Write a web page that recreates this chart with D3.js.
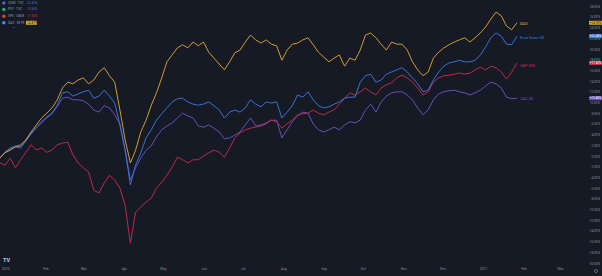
<!DOCTYPE html>
<html lang="en">
<head>
<meta charset="UTF-8">
<title>Index comparison</title>
<script src="https://d3js.org/d3.v7.min.js"></script>
<style>
  html, body { margin: 0; padding: 0; background: #161a25; }
  svg { display: block; font-family: Roboto, "DejaVu Sans", sans-serif; }
</style>
</head>
<body>
<div id="content"></div>
<script>
// one sample every 4 days, starting 28 Dec 2019
const startDate = new Date(Date.UTC(2019, 11, 28));
const stepDays = 4;

// % change
const dax = [-0.4,0.6,1.1,1.7,2.1,3.0,4.5,5.8,7.1,8.0,9.0,10.5,12.7,13.8,13.5,14.2,14.6,13.5,14.2,15.7,
  16.5,15.0,13.8,8.6,3.0,-1.3,1.1,4.5,6.7,9.5,11.8,14.6,17.6,18.9,20.2,20.8,20.2,21.3,20.6,21.3,
  19.4,18.3,17.2,16.1,17.6,19.3,19.8,21.3,22.6,21.7,21.1,21.7,20.9,20.6,17.9,19.8,20.9,21.1,21.7,22.1,
  20.8,19.4,18.5,17.6,18.3,18.9,16.8,18.3,17.9,19.8,22.6,23.0,22.1,20.9,19.8,21.3,20.9,20.9,19.8,17.6,
  16.1,15.0,15.7,18.3,19.4,20.2,20.8,21.3,21.7,22.1,21.3,22.1,23.0,24.1,25.6,26.9,26.2,24.3,23.6,24.9];
const stoxx = [-0.4,0.7,1.5,1.9,1.7,3.0,4.3,5.4,6.4,7.3,8.0,9.5,11.8,12.0,11.2,11.6,12.0,12.3,10.8,11.2,
  12.3,11.2,9.9,5.8,1.1,-5.4,-1.7,0.6,3.4,4.9,6.7,7.9,9.0,10.1,10.7,10.8,10.1,9.7,9.5,9.7,
  10.1,9.4,8.6,7.1,8.2,8.6,8.2,9.0,10.5,9.7,9.2,10.1,9.9,10.1,7.1,8.2,9.4,11.4,11.0,12.0,
  10.5,9.4,9.0,9.2,9.7,10.1,10.8,11.0,11.0,13.8,15.0,15.3,13.8,14.2,15.3,15.7,16.1,16.5,15.7,14.6,
  13.5,12.0,12.3,14.2,15.7,16.8,17.4,17.6,17.9,17.6,17.6,17.9,18.9,20.4,22.1,23.0,22.4,20.9,20.8,22.4];
const spx = [-1.3,-1.7,-0.4,-2.2,-0.7,0.7,2.1,1.1,1.5,0.7,1.1,2.1,2.4,2.6,0.2,-1.3,-2.2,-3.0,-6.4,-6.9,
  -5.0,-3.6,-4.5,-6.0,-9.2,-16.3,-10.5,-9.5,-8.6,-7.9,-6.0,-4.9,-3.6,-2.1,-0.2,-0.7,-1.3,-0.7,-0.7,0.0,
  0.6,1.1,0.7,-0.2,1.5,3.4,4.3,4.9,5.2,5.4,5.6,6.0,6.7,6.4,5.2,6.0,6.7,7.7,7.9,8.0,
  8.6,8.0,7.7,8.2,8.6,9.7,10.8,11.8,11.4,12.0,12.7,12.0,11.4,12.7,13.3,13.7,14.6,15.1,14.6,13.8,
  12.7,11.4,12.0,13.8,14.6,15.0,15.1,15.3,15.5,15.3,15.5,16.1,16.6,16.1,16.8,16.5,15.7,14.4,15.7,17.4];
const cac = [-0.4,0.7,1.3,1.7,1.5,2.8,4.1,5.2,6.2,7.1,7.9,9.2,10.8,11.0,10.5,10.5,10.3,9.7,8.6,8.2,
  9.4,9.0,7.7,6.0,1.1,-4.5,-2.2,-0.4,1.1,1.9,3.6,4.9,5.6,6.2,7.1,8.0,7.5,7.1,5.6,5.4,
  5.8,5.2,4.5,3.2,3.4,3.9,4.5,5.8,7.1,5.6,5.8,6.2,6.7,6.7,3.4,4.9,6.4,7.5,8.2,8.0,
  6.0,4.9,4.5,4.9,5.4,4.9,5.8,6.4,6.2,6.7,8.6,9.7,8.2,10.1,11.2,11.8,12.0,12.0,11.4,10.5,
  9.0,7.7,8.6,10.5,11.6,12.0,12.2,12.3,12.0,11.8,11.4,11.8,12.3,13.1,13.8,13.5,12.7,11.0,10.7,10.8];

const seriesNames = ["DAX", "Euro Stoxx 50", "S&P 500", "CAC 40"];
const seriesColors = ["#e8a82e", "#3b7be6", "#cf2a4c", "#6e52cc"];

const legendSymbols = ["SX5E · TVC", "PX1 · TVC", "SPX · CBOE", "DAX · XETR"];
const legendValues = ["22.41%", "10.83%", "17.36%", "24.87%"];
const legendColors = ["#3b7be6", "#6e52cc", "#cf2a4c", "#e8a82e"];
const legendIcons = ["#4a63d8", "#26a17c", "#d93a4a", "#3d8ce8"];

const yTicks = [28, 26, 24, 22, 20, 18, 16, 14, 12, 10, 8, 6, 4, 2, 0,
  -2, -4, -6, -8, -10, -12, -14, -16, -18, -20];
const xTickLabels = ["2020", "Feb", "Mar", "Apr", "May", "Jun", "Jul", "Aug", "Sep", "Oct",
  "Nov", "Dec", "2021", "Feb", "Mar"];

const width = 602, height = 276;
const bg = "#161a25", textGrey = "#8a8e99";

const dates = dax.map((d, i) => d3.utcDay.offset(startDate, i * stepDays));
const series = [dax, stoxx, spx, cac];

const x = d3.scaleUtc()
  .domain([new Date(Date.UTC(2020, 0, 1)), new Date(Date.UTC(2021, 0, 1))])
  .range([5, 483]);
const y = d3.scaleLinear().domain([-20, 28]).range([263, 6.2]);

const svg = d3.select("#content").append("svg")
  .attr("width", width).attr("height", height);

svg.append("rect").attr("width", width).attr("height", height).attr("fill", bg);

const line = d3.line()
  .x((d, i) => x(dates[i]))
  .y(d => y(d));

// lines, CAC drawn first so DAX sits on top
const order = [3, 2, 1, 0];
svg.append("g").selectAll("path")
  .data(order)
  .join("path")
  .attr("d", k => line(series[k]))
  .attr("fill", "none")
  .attr("stroke", k => seriesColors[k])
  .attr("stroke-width", 0.9)
  .attr("stroke-linejoin", "round");

// end labels
const last = dates.length - 1;
svg.append("g").selectAll("text")
  .data(series)
  .join("text")
  .attr("x", x(dates[last]) + 3)
  .attr("y", (s, k) => y(s[last]) + [1, 1.5, 3, 0.5][k])
  .attr("fill", (s, k) => seriesColors[k])
  .attr("font-size", 4)
  .attr("dominant-baseline", "middle")
  .text((s, k) => seriesNames[k]);

// right price scale
const yAxis = svg.append("g")
  .attr("transform", "translate(600,0)")
  .call(d3.axisLeft(y).tickValues(yTicks).tickSize(0).tickPadding(0)
    .tickFormat(d => d.toFixed(2) + "%"));
yAxis.select(".domain").remove();
yAxis.selectAll("text").attr("fill", textGrey).attr("font-size", 3.2)
  .attr("font-family", "Roboto, sans-serif");

// value badges on the scale
const badges = svg.append("g").selectAll("g")
  .data(series)
  .join("g")
  .attr("transform", s => `translate(589,${y(s[last])})`);
badges.append("rect")
  .attr("x", 0).attr("y", -2).attr("width", 13).attr("height", 4)
  .attr("rx", 0.6)
  .attr("fill", (s, k) => seriesColors[k]);
badges.append("text")
  .attr("x", 6.5).attr("y", 0.2)
  .attr("text-anchor", "middle").attr("dominant-baseline", "middle")
  .attr("font-size", 3)
  .attr("fill", (s, k) => k === 0 ? "#1b1b1b" : "#ffffff")
  .text(s => (s[last] >= 0 ? "+" : "") + s[last].toFixed(2) + "%");

// time scale
const monthTicks = d3.utcMonth.range(new Date(Date.UTC(2020, 0, 1)), new Date(Date.UTC(2021, 2, 2)));
const xAxis = svg.append("g")
  .attr("transform", "translate(0,268)")
  .call(d3.axisBottom(x).tickValues(monthTicks).tickSize(0).tickPadding(0)
    .tickFormat((d, i) => xTickLabels[i]));
xAxis.select(".domain").remove();
xAxis.selectAll("text").attr("fill", textGrey).attr("font-size", 3.4)
  .attr("font-family", "Roboto, sans-serif");

// legend, top left
const legend = svg.append("g").attr("transform", "translate(2,3)");
const rows = legend.selectAll("g")
  .data(legendSymbols)
  .join("g")
  .attr("transform", (d, i) => `translate(0,${i * 6.6})`);
rows.append("rect")
  .attr("x", 0).attr("y", -1.8).attr("width", 3.6).attr("height", 3.6).attr("rx", 1.8)
  .attr("fill", (d, i) => legendIcons[i]);
rows.append("text")
  .attr("x", 6).attr("y", 0).attr("dominant-baseline", "middle")
  .attr("font-size", 3.2).attr("fill", "#9598a1")
  .text(d => d);
rows.filter((d, i) => i === 3).append("rect")
  .attr("x", 24).attr("y", -2).attr("width", 11).attr("height", 4).attr("rx", 0.5)
  .attr("fill", "#e8a82e");
rows.append("text")
  .attr("x", 25).attr("y", 0).attr("dominant-baseline", "middle")
  .attr("font-size", 3.2)
  .attr("fill", (d, i) => i === 3 ? "#1b1b1b" : legendColors[i])
  .text((d, i) => legendValues[i]);
legend.append("text")
  .attr("x", 10).attr("y", 26).attr("font-size", 4).attr("fill", "#9598a1")
  .attr("dominant-baseline", "middle")
  .text("⌃");

// tradingview mark and settings glyph
svg.append("text")
  .attr("x", 3).attr("y", 262).attr("font-size", 5.5).attr("font-weight", "bold")
  .attr("fill", "#c9ccd4")
  .text("TV");
svg.append("circle")
  .attr("cx", 596).attr("cy", 271).attr("r", 1.6)
  .attr("fill", "none").attr("stroke", textGrey).attr("stroke-width", 0.6);
</script>
</body>
</html>
